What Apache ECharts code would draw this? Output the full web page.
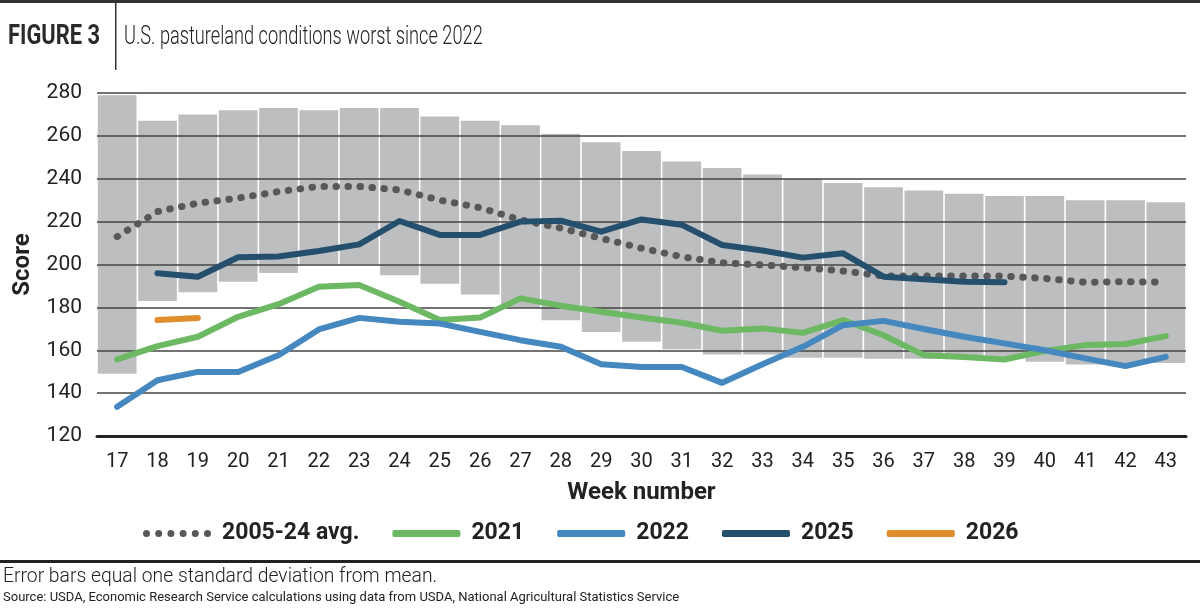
<!DOCTYPE html>
<html>
<head>
<meta charset="utf-8">
<title>U.S. pastureland conditions</title>
<script src="https://cdn.jsdelivr.net/npm/echarts@6/dist/echarts.min.js"></script>
<style>
  html, body { margin: 0; padding: 0; background: #fff; }
  #chart { width: 1200px; height: 608px; }
</style>
</head>
<body>
<div id="chart"></div>
<script>
// week numbers on the x axis
const weeks = ['17', '18', '19', '20', '21', '22', '23', '24', '25', '26', '27', '28', '29', '30',
  '31', '32', '33', '34', '35', '36', '37', '38', '39', '40', '41', '42', '43']

// error bars: mean +/- one standard deviation
const sdHigh = [279, 267, 270, 272, 273, 272, 273, 273, 269, 267, 265, 261, 257, 253,
  248, 245, 242, 240, 238, 236, 234.5, 233, 232, 232, 230, 230, 229]
const sdLow = [149, 183, 187, 192, 196, 200, 200, 195, 191, 186, 180, 174, 168.5, 164,
  160.5, 158, 158, 156.5, 156.5, 156, 156, 156, 156, 154.6, 153.4, 154, 154]

const avg0524 = [213, 224.7, 228.6, 231, 234, 236.4, 236.4, 234.8, 230, 226.5, 220.8, 217, 212.2, 207.6,
  203.6, 200.8, 199.8, 198.5, 197, 194.6, 194.6, 194.6, 194.6, 193.5, 191.7, 192, 191.7]
const y2021 = [155.7, 161.9, 166.3, 175.6, 181.5, 189.6, 190.4, 182.6, 174.1, 175.3, 184.2, 180.8, 178, 175.3,
  172.8, 169.1, 170.2, 168.1, 174.1, 167, 157.7, 156.9, 155.7, 159.7, 162.4, 162.9, 166.6]
const y2022 = [133.6, 146, 149.9, 149.9, 157.7, 169.7, 175.1, 173.3, 172.5, 168.6, 164.7, 161.6, 153.5, 152.2,
  152.2, 144.8, 153.5, 161.6, 171.7, 173.7, 169.9, 166.3, 163.2, 160, 156.2, 152.6, 156.9]
const y2025 = [null, 195.9, 194.3, 203.4, 203.7, 206.3, 209.4, 220.3, 213.8, 213.8, 220, 220.4, 215.3, 221,
  218.5, 209.1, 206.5, 203.2, 205.2, 194.3, 193.1, 192, 191.7, null, null, null, null]
const y2026 = [null, 174.1, 175.1, null, null, null, null, null, null, null, null, null, null, null,
  null, null, null, null, null, null, null, null, null, null, null, null, null]

const FONT = 'Roboto, "Liberation Sans", sans-serif'

// six dots for the legend entry of the dotted average line
let dotsIcon = 'path://'
for (let i = 0; i < 6; i++) {
  const cx = 3.5 + i * 12.2
  dotsIcon += 'M' + (cx - 3.5) + ',3.5a3.5,3.5 0 1,0 7,0a3.5,3.5 0 1,0 -7,0'
}

const chart = echarts.init(document.getElementById('chart'))

function lineSeries(name, data, color, extra) {
  return Object.assign({
    name: name,
    type: 'line',
    data: data,
    z: 5,
    showSymbol: false,
    symbol: 'none',
    connectNulls: false,
    lineStyle: { color: color, width: 6, cap: 'round', join: 'round' },
    itemStyle: { color: color }
  }, extra || {})
}

const option = {
  animation: false,
  backgroundColor: '#fff',
  textStyle: { fontFamily: FONT },
  grid: { left: 97, right: 14, top: 93, bottom: 172 },
  legend: {
    left: 138,
    top: 517,
    itemWidth: 68,
    itemHeight: 7,
    itemGap: 33,
    itemStyle: { borderWidth: 0 },
    textStyle: { fontSize: 23, fontWeight: 'bold', color: '#222', padding: [0, 0, 0, 6] },
    data: [
      { name: '2005-24 avg.', icon: dotsIcon },
      { name: '2021', icon: 'roundRect' },
      { name: '2022', icon: 'roundRect' },
      { name: '2025', icon: 'roundRect' },
      { name: '2026', icon: 'roundRect' }
    ]
  },
  xAxis: {
    type: 'category',
    data: weeks,
    z: 3,
    name: 'Week number',
    nameLocation: 'middle',
    nameGap: 45,
    nameTextStyle: { fontSize: 24, fontWeight: 'bold', color: '#222' },
    axisTick: { show: false },
    axisLine: { lineStyle: { color: '#222', width: 3 } },
    axisLabel: { fontSize: 20, color: '#222', margin: 16 }
  },
  yAxis: {
    type: 'value',
    min: 120,
    max: 280,
    interval: 20,
    z: 3,
    name: 'Score',
    nameLocation: 'middle',
    nameRotate: 90,
    nameGap: 62,
    nameTextStyle: { fontSize: 24, fontWeight: 'bold', color: '#222' },
    axisLine: { show: false },
    axisTick: { show: false },
    axisLabel: { fontSize: 21, color: '#222', margin: 15 },
    splitLine: { lineStyle: { color: '#444', width: 1.5 } }
  },
  series: [
    {
      name: 'sdBase',
      type: 'bar',
      stack: 'sd',
      data: sdLow,
      silent: true,
      itemStyle: { color: 'transparent' },
      barCategoryGap: '4%',
      z: 2
    },
    {
      name: 'sdRange',
      type: 'bar',
      stack: 'sd',
      data: sdHigh.map((h, i) => +(h - sdLow[i]).toFixed(1)),
      silent: true,
      itemStyle: { color: '#bdbec0' },
      barCategoryGap: '4%',
      z: 2
    },
    lineSeries('2005-24 avg.', avg0524, '#58585a', {
      lineStyle: { color: '#58585a', width: 7, type: [0.5, 11.5], cap: 'round' }
    }),
    lineSeries('2021', y2021, '#6db862'),
    lineSeries('2022', y2022, '#4587bf'),
    lineSeries('2025', y2025, '#24506e'),
    lineSeries('2026', y2026, '#e08d2e')
  ],
  graphic: [
    { type: 'rect', shape: { x: 0, y: 0, width: 1200, height: 3 }, style: { fill: '#333' } },
    { type: 'rect', shape: { x: 115, y: 3, width: 1.5, height: 67 }, style: { fill: '#333' } },
    {
      type: 'text', x: 8, y: 37, scaleX: 0.81,
      style: { text: 'FIGURE 3', font: 'bold 27px ' + FONT, fill: '#2a2a2a', textVerticalAlign: 'middle' }
    },
    {
      type: 'text', x: 124, y: 37, scaleX: 0.7,
      style: { text: 'U.S. pastureland conditions worst since 2022', font: '300 26px ' + FONT, fill: '#222', textVerticalAlign: 'middle' }
    },
    { type: 'rect', shape: { x: 0, y: 560, width: 1200, height: 3 }, style: { fill: '#222' } },
    {
      type: 'text', x: 3, y: 577, scaleX: 0.92,
      style: { text: 'Error bars equal one standard deviation from mean.', font: '300 21px ' + FONT, fill: '#222', textVerticalAlign: 'middle' }
    },
    {
      type: 'text', x: 3, y: 598,
      style: { text: 'Source: USDA, Economic Research Service calculations using data from USDA, National Agricultural Statistics Service', font: '13px ' + FONT, fill: '#222', textVerticalAlign: 'middle' }
    }
  ]
}

chart.setOption(option)
</script>
</body>
</html>
